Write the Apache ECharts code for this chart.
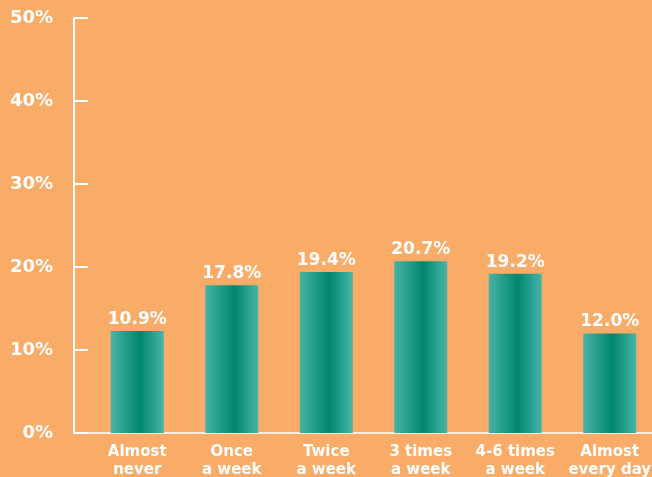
<!DOCTYPE html>
<html>
<head>
<meta charset="utf-8">
<script src="https://cdn.jsdelivr.net/npm/echarts@6/dist/echarts.min.js"></script>
<style>
html,body{margin:0;padding:0;background:#F9AC67;}
#c{width:652px;height:477px;}
</style>
</head>
<body>
<div id="c"></div>
<script>
var categories = ['Almost\nnever', 'Once\na week', 'Twice\na week', '3 times\na week', '4-6 times\na week', 'Almost\nevery day'];
// bar heights as drawn in the picture
var barValues = [12.3, 17.8, 19.4, 20.7, 19.2, 12.0];
// value labels as printed above the bars
var valueLabels = ['10.9%', '17.8%', '19.4%', '20.7%', '19.2%', '12.0%'];
var yTicks = [0, 10, 20, 30, 40, 50];

var FONT = '"DejaVu Sans", sans-serif';
var chart = echarts.init(document.getElementById('c'));
chart.setOption({
  backgroundColor: '#F9AC67',
  animation: false,
  grid: [
    {left: 74, right: 0, top: 18, bottom: 44, outerBoundsMode: 'none'},
    {left: 90, width: 567, top: 18, bottom: 44, outerBoundsMode: 'none'}
  ],
  xAxis: [
    {gridIndex: 0, type: 'value', min: 0, max: 1,
     axisLine: {show: true, lineStyle: {color: '#FCEBD8', width: 2}},
     axisTick: {show: false}, axisLabel: {show: false}, splitLine: {show: false}},
    {gridIndex: 1, type: 'category', data: categories,
     axisLine: {show: false}, axisTick: {show: false},
     axisLabel: {interval: 0, color: '#FFFFFF', fontFamily: FONT, fontWeight: 'bold', fontSize: 15, lineHeight: 18, margin: 10}}
  ],
  yAxis: [
    {gridIndex: 0, type: 'value', min: yTicks[0], max: yTicks[yTicks.length - 1], interval: 10,
     axisLine: {show: true, lineStyle: {color: '#FFFFFF', width: 2}},
     axisTick: {show: true, inside: true, length: 14, lineStyle: {color: '#FFFFFF', width: 2}},
     axisLabel: {color: '#FFFFFF', fontFamily: FONT, fontWeight: 'bold', fontSize: 18, margin: 21, formatter: '{value}%'},
     splitLine: {show: false}},
    {gridIndex: 1, type: 'value', min: 0, max: 50, show: false}
  ],
  series: [{
    type: 'bar',
    xAxisIndex: 1, yAxisIndex: 1,
    data: barValues,
    barWidth: 53,
    itemStyle: {
      color: new echarts.graphic.LinearGradient(0, 0, 1, 0, [
        {offset: 0, color: '#47B3A9'},
        {offset: 0.55, color: '#00876D'},
        {offset: 1, color: '#48B4AA'}
      ])
    },
    label: {
      show: true, position: 'top', distance: 3,
      color: '#FFFFFF', fontFamily: FONT, fontWeight: 'bold', fontSize: 17,
      formatter: function (p) { return valueLabels[p.dataIndex]; }
    }
  }]
});
</script>
</body>
</html>
